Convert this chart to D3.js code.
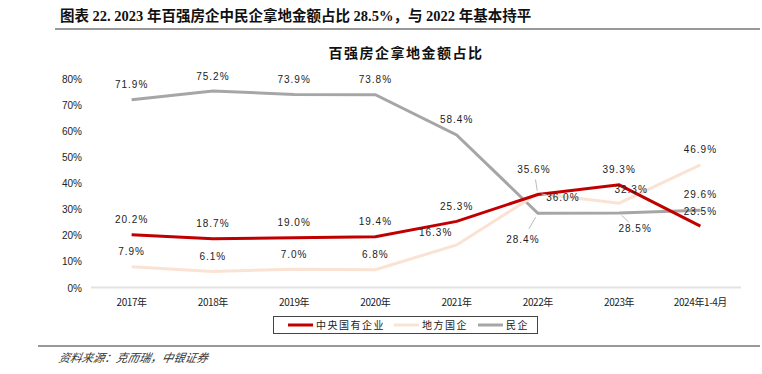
<!DOCTYPE html>
<html>
<head>
<meta charset="utf-8">
<script src="https://cdn.jsdelivr.net/npm/d3@7"></script>
<style>
  body { margin: 0; background: #fff; }
  svg { display: block; }
</style>
</head>
<body>
<div id="chart"></div>
<script>
// categorias y series
var years = ["2017年", "2018年", "2019年", "2020年", "2021年", "2022年", "2023年", "2024年1-4月"];
var central = [20.2, 18.7, 19.0, 19.4, 25.3, 35.6, 39.3, 23.5];
var local = [7.9, 6.1, 7.0, 6.8, 16.3, 36.0, 32.3, 46.9];
var privateCo = [71.9, 75.2, 73.9, 73.8, 58.4, 28.4, 28.5, 29.6];
var yTicks = [0, 10, 20, 30, 40, 50, 60, 70, 80];
var seriesNames = ["中央国有企业", "地方国企", "民企"];

var width = 762, height = 374;
var color = ["#C00000", "#FBE3D4", "#A6A6A6"];

var svg = d3.select("#chart").append("svg")
  .attr("width", width)
  .attr("height", height);

// encabezado
svg.append("text")
  .attr("x", 60).attr("y", 21)
  .style("font", "bold 14.5px 'Liberation Serif', 'Noto Sans CJK SC', serif")
  .style("fill", "#111")
  .text("图表 22. 2023 年百强房企中民企拿地金额占比 28.5%，与 2022 年基本持平");

svg.append("line")
  .attr("x1", 55).attr("x2", 760).attr("y1", 29).attr("y2", 29)
  .style("stroke", "#999").style("stroke-width", 2);

svg.append("text")
  .attr("x", 406).attr("y", 58)
  .attr("text-anchor", "middle")
  .style("font", "bold 14px 'Noto Sans CJK SC', sans-serif")
  .style("letter-spacing", "1.5px")
  .style("fill", "#111")
  .text("百强房企拿地金额占比");

var x = d3.scaleBand().domain(years).range([91, 741]);
var y = d3.scaleLinear().domain([0, 80]).range([287.5, 78.5]);
var cx = function(i) { return x(years[i]) + x.bandwidth() / 2; };

// eje y
svg.selectAll(".ytick")
  .data(yTicks)
  .enter().append("text")
  .attr("class", "ytick")
  .attr("x", 82)
  .attr("y", function(d) { return y(d) + 4; })
  .attr("text-anchor", "end")
  .style("font", "10px 'Liberation Sans', Arial, sans-serif")
  .style("fill", "#222")
  .text(function(d) { return d + "%"; });

svg.append("line")
  .attr("x1", 91).attr("x2", 741)
  .attr("y1", y(0)).attr("y2", y(0))
  .style("stroke", "#e3e3e3").style("stroke-width", 2);

// eje x
svg.selectAll(".xtick")
  .data(years)
  .enter().append("text")
  .attr("class", "xtick")
  .attr("x", function(d, i) { return cx(i); })
  .attr("y", 306)
  .attr("text-anchor", "middle")
  .style("font", "10px 'Noto Sans CJK SC', sans-serif")
  .style("letter-spacing", "-0.4px")
  .style("fill", "#222")
  .text(function(d) { return d; });

var allSeries = [central, local, privateCo];
var line = d3.line()
  .x(function(d, i) { return cx(i); })
  .y(function(d) { return y(d); });

// orden de dibujo: gris, durazno, rojo
[2, 1, 0].forEach(function(s) {
  svg.append("path")
    .datum(allSeries[s])
    .attr("d", line)
    .style("fill", "none")
    .style("stroke", color[s])
    .style("stroke-width", 3);
});

// desplazamientos de etiquetas (dx, dy del centro respecto al punto) y lineas guia
var offsets = {
  "1-4": [-21, -12],
  "0-5": [-4, -25, true],
  "1-5": [25, 4, true],
  "2-5": [-15, 26, true],
  "1-6": [12, -14],
  "2-6": [16, 15, true],
  "0-7": [0, -15],
  "2-7": [0, -16]
};

var labels = [];
allSeries.forEach(function(arr, s) {
  arr.forEach(function(v, i) {
    var o = offsets[s + "-" + i] || [0, -15];
    labels.push({ s: s, i: i, v: v, dx: o[0], dy: o[1], lead: o[2] });
  });
});

svg.selectAll(".lead")
  .data(labels.filter(function(d) { return d.lead; }))
  .enter().append("line")
  .attr("class", "lead")
  .attr("x1", function(d) { return cx(d.i) + d.dx * 0.15; })
  .attr("y1", function(d) { return y(d.v) + d.dy * 0.15; })
  .attr("x2", function(d) { return cx(d.i) + d.dx * 0.6; })
  .attr("y2", function(d) { return y(d.v) + d.dy * 0.6; })
  .style("stroke", "#bbb").style("stroke-width", 1);

svg.selectAll(".lbl")
  .data(labels)
  .enter().append("text")
  .attr("class", "lbl")
  .attr("x", function(d) { return cx(d.i) + d.dx; })
  .attr("y", function(d) { return y(d.v) + d.dy + 3.5; })
  .attr("text-anchor", "middle")
  .style("font", "10px 'Liberation Sans', Arial, sans-serif")
  .style("letter-spacing", "1px")
  .style("fill", "#222")
  .text(function(d) { return d.v.toFixed(1) + "%"; });

// leyenda
var legend = svg.append("g");
legend.append("rect")
  .attr("x", 273.5).attr("y", 316.5).attr("width", 264).attr("height", 17)
  .style("fill", "#fff").style("stroke", "#444").style("stroke-width", 1);

var legX = [288, 394, 478];
seriesNames.forEach(function(name, s) {
  legend.append("line")
    .attr("x1", legX[s]).attr("x2", legX[s] + 25)
    .attr("y1", 325).attr("y2", 325)
    .style("stroke", color[s]).style("stroke-width", 3);
  legend.append("text")
    .attr("x", legX[s] + 28).attr("y", 329)
    .style("font", "10px 'Noto Sans CJK SC', sans-serif")
    .style("letter-spacing", "1.5px")
    .style("fill", "#222")
    .text(name);
});

// pie
svg.append("line")
  .attr("x1", 38).attr("x2", 760).attr("y1", 346).attr("y2", 346)
  .style("stroke", "#999").style("stroke-width", 2);

svg.append("text")
  .attr("x", 58).attr("y", 362)
  .style("font", "italic 11.5px 'Noto Sans CJK SC', sans-serif")
  .style("fill", "#333")
  .attr("transform", "skewX(-12) translate(77,0)")
  .text("资料来源：克而瑞，中银证券");
</script>
</body>
</html>
